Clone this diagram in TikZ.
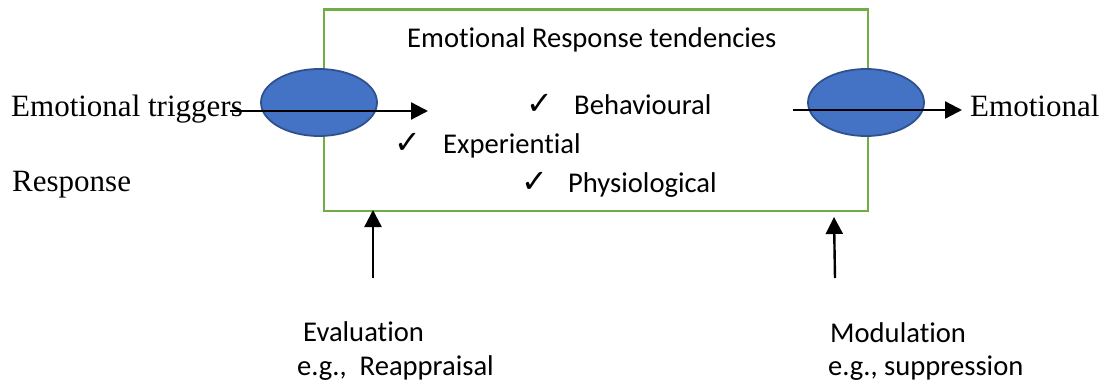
\documentclass[tikz,border=0pt]{standalone}
\usepackage{fontspec}
\setmainfont{Liberation Serif}
\newfontfamily\calfont[Ligatures=NoCommon]{Carlito}
\newfontfamily\symfont{DejaVu Sans}
\usetikzlibrary{shapes.geometric,arrows.meta}
\definecolor{boxgreen}{HTML}{70AD47}
\definecolor{blobfill}{HTML}{4472C4}
\definecolor{blobdraw}{HTML}{2F528F}
\tikzset{
  frame/.style={draw=boxgreen,line width=2.5pt,inner sep=0pt,outer sep=0pt},
  blob/.style={ellipse,draw=blobdraw,line width=1.8pt,fill=blobfill,minimum width=116pt,minimum height=67pt,inner sep=0pt},
  serif/.style={anchor=base west,inner sep=0pt,font=\fontsize{31}{36}\selectfont},
  sans/.style={anchor=base west,inner sep=0pt,font=\calfont\fontsize{28.6}{34}\selectfont},
  arr/.style={line width=2.4pt,-{Triangle[length=17pt,width=17pt]}},
}
\newcommand{\chk}[1]{\makebox[#1][l]{\symfont\fontsize{32}{32}\selectfont ✓}}
\begin{document}
\begin{tikzpicture}[x=1pt,y=-1pt]
\useasboundingbox (0,0) rectangle (1109,385);
\node[frame,minimum width=544pt,minimum height=201.5pt] (box) at (596,110.25) {};
\node[blob] (e1) at (319,102.5) {};
\node[blob] (e2) at (866,102.5) {};
\node[serif] (trig) at (11,117) {Emotional triggers};
\node[serif] (resp) at (12,192) {Response};
\node[serif] (out) at (970,117) {Emotional};
\node[sans] (title) at (407,48) {Emotional Response tendencies};
\node[sans] (beh) at (526,115) {\chk{48pt}Behavioural};
\node[sans] (exp) at (394,154) {\chk{49pt}Experiential};
\node[sans] (phy) at (521,193) {\chk{47pt}Physiological};
\node[sans] (ev) at (303,341) {Evaluation};
\node[sans] (re) at (297,375) {e.g.,\ \ Reappraisal};
\node[sans] (mo) at (830,342) {Modulation};
\node[sans] (su) at (828,375) {e.g., suppression};
\coordinate (a1s) at (230,111);
\coordinate (a1e) at (428,111);
\coordinate (a2s) at (793,110);
\coordinate (a2e) at (962,110);
\coordinate (v1s) at (373,278);
\coordinate (v1e) at (373,210);
\coordinate (v2s) at (835,278);
\coordinate (v2e) at (834,217);
\draw[arr] (a1s) -- (a1e);
\draw[arr] (a2s) -- (a2e);
\draw[arr] (v1s) -- (v1e);
\draw[arr] (v2s) -- (v2e);
\end{tikzpicture}
\end{document}
